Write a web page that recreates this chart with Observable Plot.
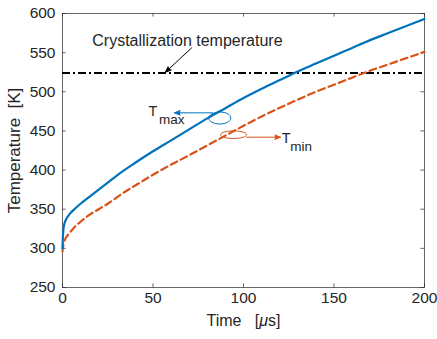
<!DOCTYPE html>
<html>
<head>
<meta charset="utf-8">
<script src="https://cdn.jsdelivr.net/npm/d3@7"></script>
<script src="https://cdn.jsdelivr.net/npm/@observablehq/plot@0.6"></script>
<style>
  html, body { margin: 0; padding: 0; background: white; }
  #chart { width: 437px; height: 339px; }
</style>
</head>
<body>
<div id="chart"></div>
<script>
// ---- data ----
const timeMax = [0, 0.2, 0.5, 1, 2, 4, 7, 10, 15, 20, 25, 30, 40, 50, 60, 70, 80, 90, 100, 110, 120, 130, 140, 150, 160, 170, 180, 190, 200];
const tempMax = [300, 314, 324, 331, 337, 344, 351, 357, 366, 375, 384, 393, 409, 424, 438, 452, 466, 479, 492, 504, 515, 526, 536, 546, 556, 566, 575, 584, 593];

const timeMin = [0, 0.5, 1, 2, 4, 7, 10, 15, 20, 25, 30, 35, 40, 50, 60, 70, 80, 90, 100, 110, 120, 130, 140, 150, 160, 170, 180, 190, 200];
const tempMin = [296, 305, 309, 314, 320, 328, 334, 343, 350, 357, 365, 373, 380, 394, 407, 419, 431.5, 444, 456.5, 468.5, 479.5, 490, 500, 509, 518, 527, 535, 543, 551];

const crystTemp = [524];

const xTicks = [0, 50, 100, 150, 200];
const yTicks = [250, 300, 350, 400, 450, 500, 550, 600];

// annotations (data coordinates)
const crystLabel = [{t: 69, T: 558, text: "Crystallization temperature"}];
const crystArrow = [{t1: 71.3, T1: 556, t2: 56.9, T2: 525}];
const maxLabel = [{t: 47.5, T: 469.3, text: "T"}];
const maxSub = [{t: 53.3, T: 459.1, text: "max"}];
const minLabel = [{t: 121.2, T: 434.8, text: "T"}];
const minSub = [{t: 125.8, T: 425, text: "min"}];
const maxArrow = [{t1: 82.9, T1: 473.1, t2: 61.9, T2: 473.1}];
const minArrow = [{t1: 101.7, T1: 442, t2: 120.4, T2: 442}];
const maxEllipse = [{t: 86.9, T: 466.5}];
const minEllipse = [{t: 94.5, T: 445.2}];

const maxData = timeMax.map((t, i) => ({t, T: tempMax[i]}));
const minData = timeMin.map((t, i) => ({t, T: tempMin[i]}));

const blue = "#0072BD";
const orange = "#D95319";
const ink = "#262626";

function ellipseSymbol(rx, ry) {
  const k = 0.5523;
  return {
    draw(ctx) {
      ctx.moveTo(rx, 0);
      ctx.bezierCurveTo(rx, ry * k, rx * k, ry, 0, ry);
      ctx.bezierCurveTo(-rx * k, ry, -rx, ry * k, -rx, 0);
      ctx.bezierCurveTo(-rx, -ry * k, -rx * k, -ry, 0, -ry);
      ctx.bezierCurveTo(rx * k, -ry, rx, -ry * k, rx, 0);
      ctx.closePath();
    }
  };
}

const plot = Plot.plot({
  width: 437,
  height: 339,
  marginLeft: 62,
  marginRight: 13,
  marginTop: 13,
  marginBottom: 52,
  style: {fontFamily: "'Liberation Sans', Arial, Helvetica, sans-serif", fontSize: "15.5px", color: ink, background: "white"},
  x: {domain: [0, 200]},
  y: {domain: [250, 600]},
  marks: [
    // inward ticks
    Plot.ruleX(xTicks, {x: d => d, y1: 250, y2: 254.6, stroke: ink, strokeOpacity: 0.7}),
    Plot.ruleX(xTicks, {x: d => d, y1: 595.4, y2: 600, stroke: ink, strokeOpacity: 0.7}),
    Plot.ruleY(yTicks, {y: d => d, x1: 0, x2: 2, stroke: ink, strokeOpacity: 0.7}),
    Plot.ruleY(yTicks, {y: d => d, x1: 198, x2: 200, stroke: ink, strokeOpacity: 0.7}),
    Plot.axisX({ticks: xTicks, tickSize: 0, tickPadding: 4, tickFormat: d => String(d), label: null, fontSize: 15.5}),
    Plot.axisY({ticks: yTicks, tickSize: 0, tickPadding: 7, tickFormat: d => String(d), label: null, fontSize: 15.5}),
    Plot.axisX({ticks: [], tickSize: 0, label: "Time\u00a0\u00a0\u00a0[μs]", labelAnchor: "center", labelOffset: 38, labelArrow: "none", fontSize: 16}),
    Plot.axisY({ticks: [], tickSize: 0, label: "Temperature\u00a0\u00a0[K]", labelAnchor: "center", labelOffset: 55, labelArrow: "none", fontSize: 17}),
    Plot.frame({stroke: ink, strokeOpacity: 0.7}),
    Plot.ruleY(crystTemp, {stroke: "black", strokeWidth: 2, strokeDasharray: "8,3,2,3"}),
    Plot.line(minData, {x: "t", y: "T", stroke: orange, strokeWidth: 2.2, strokeDasharray: "7,4", curve: "monotone-x"}),
    Plot.line(maxData, {x: "t", y: "T", stroke: blue, strokeWidth: 2.2, curve: "monotone-x"}),
    Plot.text(crystLabel, {x: "t", y: "T", text: "text", textAnchor: "middle", lineAnchor: "bottom", fontSize: 16, fill: ink}),
    Plot.arrow(crystArrow, {x1: "t1", y1: "T1", x2: "t2", y2: "T2", stroke: "black", fill: "black", strokeWidth: 1, headLength: 9, headAngle: 45}),
    Plot.text(maxLabel, {x: "t", y: "T", text: "text", textAnchor: "start", lineAnchor: "bottom", fontSize: 14.5, fill: ink}),
    Plot.text(maxSub, {x: "t", y: "T", text: "text", textAnchor: "start", lineAnchor: "bottom", fontSize: 13.5, fill: ink}),
    Plot.text(minLabel, {x: "t", y: "T", text: "text", textAnchor: "start", lineAnchor: "bottom", fontSize: 14.5, fill: ink}),
    Plot.text(minSub, {x: "t", y: "T", text: "text", textAnchor: "start", lineAnchor: "bottom", fontSize: 13.5, fill: ink}),
    Plot.arrow(maxArrow, {x1: "t1", y1: "T1", x2: "t2", y2: "T2", stroke: blue, fill: blue, strokeWidth: 1, headLength: 9, headAngle: 45}),
    Plot.arrow(minArrow, {x1: "t1", y1: "T1", x2: "t2", y2: "T2", stroke: orange, fill: orange, strokeWidth: 1, headLength: 9, headAngle: 45}),
    Plot.dot(maxEllipse, {x: "t", y: "T", symbol: ellipseSymbol(11, 6), r: 1, stroke: blue, strokeWidth: 1, fill: "none"}),
    Plot.dot(minEllipse, {x: "t", y: "T", symbol: ellipseSymbol(13, 3.8), r: 1, stroke: orange, strokeWidth: 1, fill: "none"})
  ]
});

document.getElementById("chart").appendChild(plot);

// italic mu in the x label
d3.select(plot).selectAll("text")
  .filter(function () { return this.textContent.includes("[μs]"); })
  .each(function () {
    const t = d3.select(this);
    t.text(null);
    t.append("tspan").text("Time\u00a0\u00a0\u00a0[");
    t.append("tspan").attr("font-style", "italic").text("μ");
    t.append("tspan").text("s]");
  });
</script>
</body>
</html>
